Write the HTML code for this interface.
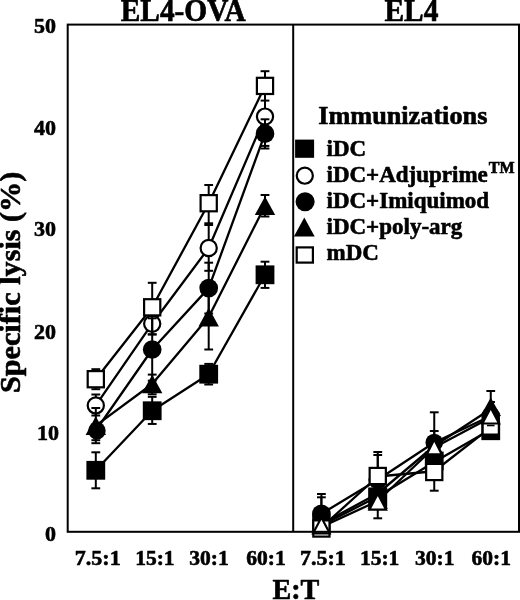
<!DOCTYPE html>
<html><head><meta charset="utf-8"><title>Specific lysis</title>
<style>
html,body{margin:0;padding:0;background:#fff;}
body{width:520px;height:600px;overflow:hidden;}
svg{display:block;filter:grayscale(1);}
text{font-family:"Liberation Serif",serif;font-weight:bold;fill:#000;stroke:#000;stroke-width:0.6px;stroke-linejoin:round;}
</style></head><body>
<svg width="520" height="600" viewBox="0 0 520 600">
<rect x="0" y="0" width="520" height="600" fill="#fff"/>
<g shape-rendering="geometricPrecision">
<polyline points="95.80,470.30 152.20,410.75 208.70,374.20 265.00,274.80" fill="none" stroke="#000" stroke-width="2.3" stroke-linejoin="round"/>
<line x1="95.80" y1="452.30" x2="95.80" y2="488.30" stroke="#000" stroke-width="2.0" stroke-linecap="butt"/>
<line x1="91.40" y1="452.30" x2="100.20" y2="452.30" stroke="#000" stroke-width="2.0" stroke-linecap="butt"/>
<line x1="91.40" y1="488.30" x2="100.20" y2="488.30" stroke="#000" stroke-width="2.0" stroke-linecap="butt"/>
<line x1="152.20" y1="396.85" x2="152.20" y2="423.95" stroke="#000" stroke-width="2.0" stroke-linecap="butt"/>
<line x1="147.80" y1="396.85" x2="156.60" y2="396.85" stroke="#000" stroke-width="2.0" stroke-linecap="butt"/>
<line x1="147.80" y1="423.95" x2="156.60" y2="423.95" stroke="#000" stroke-width="2.0" stroke-linecap="butt"/>
<line x1="208.70" y1="363.90" x2="208.70" y2="384.50" stroke="#000" stroke-width="2.0" stroke-linecap="butt"/>
<line x1="204.30" y1="363.90" x2="213.10" y2="363.90" stroke="#000" stroke-width="2.0" stroke-linecap="butt"/>
<line x1="204.30" y1="384.50" x2="213.10" y2="384.50" stroke="#000" stroke-width="2.0" stroke-linecap="butt"/>
<line x1="265.00" y1="261.70" x2="265.00" y2="287.90" stroke="#000" stroke-width="2.0" stroke-linecap="butt"/>
<line x1="260.60" y1="261.70" x2="269.40" y2="261.70" stroke="#000" stroke-width="2.0" stroke-linecap="butt"/>
<line x1="260.60" y1="287.90" x2="269.40" y2="287.90" stroke="#000" stroke-width="2.0" stroke-linecap="butt"/>
<rect x="86.40" y="460.90" width="18.8" height="18.8" fill="#000"/>
<rect x="142.80" y="401.35" width="18.8" height="18.8" fill="#000"/>
<rect x="199.30" y="364.80" width="18.8" height="18.8" fill="#000"/>
<rect x="255.60" y="265.40" width="18.8" height="18.8" fill="#000"/>
<polyline points="95.80,405.40 152.20,323.70 208.70,248.00 265.00,116.60" fill="none" stroke="#000" stroke-width="2.3" stroke-linejoin="round"/>
<line x1="95.80" y1="394.50" x2="95.80" y2="415.50" stroke="#000" stroke-width="2.0" stroke-linecap="butt"/>
<line x1="91.40" y1="394.50" x2="100.20" y2="394.50" stroke="#000" stroke-width="2.0" stroke-linecap="butt"/>
<line x1="91.40" y1="415.50" x2="100.20" y2="415.50" stroke="#000" stroke-width="2.0" stroke-linecap="butt"/>
<line x1="152.20" y1="312.90" x2="152.20" y2="334.50" stroke="#000" stroke-width="2.0" stroke-linecap="butt"/>
<line x1="147.80" y1="312.90" x2="156.60" y2="312.90" stroke="#000" stroke-width="2.0" stroke-linecap="butt"/>
<line x1="147.80" y1="334.50" x2="156.60" y2="334.50" stroke="#000" stroke-width="2.0" stroke-linecap="butt"/>
<line x1="208.70" y1="225.00" x2="208.70" y2="270.80" stroke="#000" stroke-width="2.0" stroke-linecap="butt"/>
<line x1="204.30" y1="225.00" x2="213.10" y2="225.00" stroke="#000" stroke-width="2.0" stroke-linecap="butt"/>
<line x1="204.30" y1="270.80" x2="213.10" y2="270.80" stroke="#000" stroke-width="2.0" stroke-linecap="butt"/>
<line x1="265.00" y1="87.30" x2="265.00" y2="145.90" stroke="#000" stroke-width="2.0" stroke-linecap="butt"/>
<line x1="260.60" y1="87.30" x2="269.40" y2="87.30" stroke="#000" stroke-width="2.0" stroke-linecap="butt"/>
<line x1="260.60" y1="145.90" x2="269.40" y2="145.90" stroke="#000" stroke-width="2.0" stroke-linecap="butt"/>
<circle cx="95.80" cy="405.40" r="8.1" fill="#fff" stroke="#000" stroke-width="2.2"/>
<circle cx="152.20" cy="323.70" r="8.1" fill="#fff" stroke="#000" stroke-width="2.2"/>
<circle cx="208.70" cy="248.00" r="8.1" fill="#fff" stroke="#000" stroke-width="2.2"/>
<circle cx="265.00" cy="116.60" r="8.1" fill="#fff" stroke="#000" stroke-width="2.2"/>
<polyline points="95.80,430.50 152.20,349.50 208.70,288.10 265.00,133.70" fill="none" stroke="#000" stroke-width="2.3" stroke-linejoin="round"/>
<line x1="95.80" y1="424.00" x2="95.80" y2="440.20" stroke="#000" stroke-width="2.0" stroke-linecap="butt"/>
<line x1="91.40" y1="424.00" x2="100.20" y2="424.00" stroke="#000" stroke-width="2.0" stroke-linecap="butt"/>
<line x1="91.40" y1="440.20" x2="100.20" y2="440.20" stroke="#000" stroke-width="2.0" stroke-linecap="butt"/>
<line x1="152.20" y1="318.30" x2="152.20" y2="380.70" stroke="#000" stroke-width="2.0" stroke-linecap="butt"/>
<line x1="147.80" y1="318.30" x2="156.60" y2="318.30" stroke="#000" stroke-width="2.0" stroke-linecap="butt"/>
<line x1="147.80" y1="380.70" x2="156.60" y2="380.70" stroke="#000" stroke-width="2.0" stroke-linecap="butt"/>
<line x1="208.70" y1="262.70" x2="208.70" y2="313.50" stroke="#000" stroke-width="2.0" stroke-linecap="butt"/>
<line x1="204.30" y1="262.70" x2="213.10" y2="262.70" stroke="#000" stroke-width="2.0" stroke-linecap="butt"/>
<line x1="204.30" y1="313.50" x2="213.10" y2="313.50" stroke="#000" stroke-width="2.0" stroke-linecap="butt"/>
<line x1="265.00" y1="119.30" x2="265.00" y2="148.50" stroke="#000" stroke-width="2.0" stroke-linecap="butt"/>
<line x1="260.60" y1="119.30" x2="269.40" y2="119.30" stroke="#000" stroke-width="2.0" stroke-linecap="butt"/>
<line x1="260.60" y1="148.50" x2="269.40" y2="148.50" stroke="#000" stroke-width="2.0" stroke-linecap="butt"/>
<circle cx="96.90" cy="430.70" r="8.8" fill="#000"/>
<circle cx="152.20" cy="349.50" r="9.35" fill="#000"/>
<circle cx="208.70" cy="288.10" r="9.35" fill="#000"/>
<circle cx="265.00" cy="133.70" r="9.35" fill="#000"/>
<polyline points="95.80,425.60 152.20,384.00 208.70,317.10 265.00,205.75" fill="none" stroke="#000" stroke-width="2.3" stroke-linejoin="round"/>
<line x1="95.80" y1="408.00" x2="95.80" y2="443.20" stroke="#000" stroke-width="2.0" stroke-linecap="butt"/>
<line x1="91.40" y1="408.00" x2="100.20" y2="408.00" stroke="#000" stroke-width="2.0" stroke-linecap="butt"/>
<line x1="91.40" y1="443.20" x2="100.20" y2="443.20" stroke="#000" stroke-width="2.0" stroke-linecap="butt"/>
<line x1="152.20" y1="374.60" x2="152.20" y2="394.30" stroke="#000" stroke-width="2.0" stroke-linecap="butt"/>
<line x1="147.80" y1="374.60" x2="156.60" y2="374.60" stroke="#000" stroke-width="2.0" stroke-linecap="butt"/>
<line x1="147.80" y1="394.30" x2="156.60" y2="394.30" stroke="#000" stroke-width="2.0" stroke-linecap="butt"/>
<line x1="208.70" y1="286.00" x2="208.70" y2="349.50" stroke="#000" stroke-width="2.0" stroke-linecap="butt"/>
<line x1="204.30" y1="286.00" x2="213.10" y2="286.00" stroke="#000" stroke-width="2.0" stroke-linecap="butt"/>
<line x1="204.30" y1="349.50" x2="213.10" y2="349.50" stroke="#000" stroke-width="2.0" stroke-linecap="butt"/>
<line x1="265.00" y1="195.00" x2="265.00" y2="216.50" stroke="#000" stroke-width="2.0" stroke-linecap="butt"/>
<line x1="260.60" y1="195.00" x2="269.40" y2="195.00" stroke="#000" stroke-width="2.0" stroke-linecap="butt"/>
<line x1="260.60" y1="216.50" x2="269.40" y2="216.50" stroke="#000" stroke-width="2.0" stroke-linecap="butt"/>
<polygon points="95.80,416.30 106.00,434.90 85.60,434.90" fill="#000"/>
<polygon points="152.20,374.70 162.40,393.30 142.00,393.30" fill="#000"/>
<polygon points="208.70,307.80 218.90,326.40 198.50,326.40" fill="#000"/>
<polygon points="265.00,196.45 275.20,215.05 254.80,215.05" fill="#000"/>
<polyline points="95.80,379.20 152.20,307.30 208.70,203.20 265.00,85.90" fill="none" stroke="#000" stroke-width="2.3" stroke-linejoin="round"/>
<line x1="95.80" y1="369.20" x2="95.80" y2="389.20" stroke="#000" stroke-width="2.0" stroke-linecap="butt"/>
<line x1="91.40" y1="369.20" x2="100.20" y2="369.20" stroke="#000" stroke-width="2.0" stroke-linecap="butt"/>
<line x1="91.40" y1="389.20" x2="100.20" y2="389.20" stroke="#000" stroke-width="2.0" stroke-linecap="butt"/>
<line x1="152.20" y1="282.80" x2="152.20" y2="334.30" stroke="#000" stroke-width="2.0" stroke-linecap="butt"/>
<line x1="147.80" y1="282.80" x2="156.60" y2="282.80" stroke="#000" stroke-width="2.0" stroke-linecap="butt"/>
<line x1="147.80" y1="334.30" x2="156.60" y2="334.30" stroke="#000" stroke-width="2.0" stroke-linecap="butt"/>
<line x1="208.70" y1="185.00" x2="208.70" y2="223.30" stroke="#000" stroke-width="2.0" stroke-linecap="butt"/>
<line x1="204.30" y1="185.00" x2="213.10" y2="185.00" stroke="#000" stroke-width="2.0" stroke-linecap="butt"/>
<line x1="204.30" y1="223.30" x2="213.10" y2="223.30" stroke="#000" stroke-width="2.0" stroke-linecap="butt"/>
<line x1="265.00" y1="71.20" x2="265.00" y2="100.60" stroke="#000" stroke-width="2.0" stroke-linecap="butt"/>
<line x1="260.60" y1="71.20" x2="269.40" y2="71.20" stroke="#000" stroke-width="2.0" stroke-linecap="butt"/>
<line x1="260.60" y1="100.60" x2="269.40" y2="100.60" stroke="#000" stroke-width="2.0" stroke-linecap="butt"/>
<rect x="87.70" y="371.10" width="16.2" height="16.2" fill="#fff" stroke="#000" stroke-width="2.2"/>
<rect x="144.10" y="299.20" width="16.2" height="16.2" fill="#fff" stroke="#000" stroke-width="2.2"/>
<rect x="200.60" y="195.10" width="16.2" height="16.2" fill="#fff" stroke="#000" stroke-width="2.2"/>
<rect x="256.90" y="77.80" width="16.2" height="16.2" fill="#fff" stroke="#000" stroke-width="2.2"/>
<polyline points="321.40,525.50 377.75,496.50 434.25,462.00 490.75,429.50" fill="none" stroke="#000" stroke-width="2.3" stroke-linejoin="round"/>
<polyline points="321.40,513.80 377.75,479.80 434.25,442.50 490.75,416.00" fill="none" stroke="#000" stroke-width="2.3" stroke-linejoin="round"/>
<polyline points="321.40,524.00 377.75,493.50 434.25,446.00 490.75,409.00" fill="none" stroke="#000" stroke-width="2.3" stroke-linejoin="round"/>
<polyline points="321.40,527.50 377.75,476.50 434.25,471.25 490.75,427.30" fill="none" stroke="#000" stroke-width="2.3" stroke-linejoin="round"/>
<polyline points="321.40,527.00 377.75,501.00 434.25,447.50 490.75,417.50" fill="none" stroke="#000" stroke-width="2.3" stroke-linejoin="round"/>
<line x1="321.40" y1="494.00" x2="321.40" y2="513.80" stroke="#000" stroke-width="2.0" stroke-linecap="butt"/>
<line x1="317.00" y1="494.00" x2="325.80" y2="494.00" stroke="#000" stroke-width="2.0" stroke-linecap="butt"/>
<line x1="321.40" y1="497.30" x2="321.40" y2="513.80" stroke="#000" stroke-width="2.0" stroke-linecap="butt"/>
<line x1="317.00" y1="497.30" x2="325.80" y2="497.30" stroke="#000" stroke-width="2.0" stroke-linecap="butt"/>
<line x1="377.75" y1="452.00" x2="377.75" y2="518.30" stroke="#000" stroke-width="2.0" stroke-linecap="butt"/>
<line x1="373.35" y1="452.00" x2="382.15" y2="452.00" stroke="#000" stroke-width="2.0" stroke-linecap="butt"/>
<line x1="373.35" y1="518.30" x2="382.15" y2="518.30" stroke="#000" stroke-width="2.0" stroke-linecap="butt"/>
<line x1="377.75" y1="455.00" x2="377.75" y2="500.00" stroke="#000" stroke-width="2.0" stroke-linecap="butt"/>
<line x1="373.35" y1="455.00" x2="382.15" y2="455.00" stroke="#000" stroke-width="2.0" stroke-linecap="butt"/>
<line x1="434.25" y1="412.30" x2="434.25" y2="490.70" stroke="#000" stroke-width="2.0" stroke-linecap="butt"/>
<line x1="429.85" y1="412.30" x2="438.65" y2="412.30" stroke="#000" stroke-width="2.0" stroke-linecap="butt"/>
<line x1="429.85" y1="490.70" x2="438.65" y2="490.70" stroke="#000" stroke-width="2.0" stroke-linecap="butt"/>
<line x1="434.25" y1="431.00" x2="434.25" y2="445.00" stroke="#000" stroke-width="2.0" stroke-linecap="butt"/>
<line x1="429.85" y1="431.00" x2="438.65" y2="431.00" stroke="#000" stroke-width="2.0" stroke-linecap="butt"/>
<line x1="490.75" y1="391.00" x2="490.75" y2="402.00" stroke="#000" stroke-width="2.0" stroke-linecap="butt"/>
<line x1="486.35" y1="391.00" x2="495.15" y2="391.00" stroke="#000" stroke-width="2.0" stroke-linecap="butt"/>
<line x1="490.75" y1="402.00" x2="494.95" y2="402.00" stroke="#000" stroke-width="2.0" stroke-linecap="butt"/>
<rect x="312.20" y="514.30" width="18.4" height="18.4" fill="#000"/>
<circle cx="321.40" cy="513.80" r="9.35" fill="#000"/>
<rect x="368.35" y="487.60" width="18.8" height="18.8" fill="#000"/>
<circle cx="377.75" cy="479.80" r="9.35" fill="#000"/>
<polygon points="377.75,490.20 387.95,508.80 367.55,508.80" fill="#000"/>
<rect x="368.45" y="487.7" width="18.6" height="22.2" fill="#000"/>
<circle cx="434.25" cy="442.50" r="8.8" fill="#000"/>
<rect x="424.85" y="451.60" width="18.8" height="18.8" fill="#000"/>
<circle cx="490.75" cy="416.00" r="9.35" fill="#000"/>
<polygon points="490.75,397.40 500.95,416.00 480.55,416.00" fill="#000"/>
<rect x="481.35" y="421.35" width="18.8" height="18.8" fill="#000"/>
<rect x="313.30" y="520.40" width="16.2" height="16.2" fill="#fff" stroke="#000" stroke-width="2.2"/>
<rect x="369.65" y="467.90" width="16.2" height="16.2" fill="#fff" stroke="#000" stroke-width="2.2"/>
<rect x="426.15" y="463.90" width="16.2" height="16.2" fill="#fff" stroke="#000" stroke-width="2.2"/>
<rect x="482.65" y="418.40" width="16.2" height="16.2" fill="#fff" stroke="#000" stroke-width="2.2"/>
<polygon points="321.40,517.55 329.70,533.35 313.10,533.35" fill="#fff" stroke="#000" stroke-width="2.2" stroke-linejoin="miter"/>
<polygon points="377.75,493.80 386.05,509.60 369.45,509.60" fill="#fff" stroke="#000" stroke-width="2.2" stroke-linejoin="miter"/>
<polygon points="434.25,439.20 441.95,454.40 426.55,454.40" fill="#fff" stroke="#000" stroke-width="2.5" stroke-linejoin="miter"/>
<polygon points="490.75,407.70 499.05,423.50 482.45,423.50" fill="#fff" stroke="#000" stroke-width="2.2" stroke-linejoin="miter"/>
<line x1="486.95" y1="425.50" x2="494.55" y2="425.50" stroke="#000" stroke-width="1.6" stroke-linecap="butt"/>
<rect x="67.7" y="24.6" width="451.3" height="507.19999999999993" fill="none" stroke="#000" stroke-width="2"/>
<line x1="293.20" y1="24.60" x2="293.20" y2="531.80" stroke="#000" stroke-width="2" stroke-linecap="butt"/>
<rect x="295.1" y="139.6" width="19.0" height="18.2" fill="#000"/>
<circle cx="304.80" cy="175.70" r="8.05" fill="#fff" stroke="#000" stroke-width="2.2"/>
<circle cx="305.10" cy="201.70" r="9.55" fill="#000"/>
<polygon points="304.30,217.60 314.70,236.60 293.90,236.60" fill="#000"/>
<rect x="296.7" y="247.4" width="16.2" height="15.2" fill="#fff" stroke="#000" stroke-width="2.2"/>
</g>
<g>
<text transform="translate(120.8,20.7) scale(1,1.07)" font-size="29.35">EL4-OVA</text>
<text transform="translate(384.5,20.7) scale(1,1.07)" font-size="29.4">EL4</text>
<text x="55.9" y="33.400000000000006" font-size="22" text-anchor="end" >50</text>
<text x="55.9" y="134.6" font-size="22" text-anchor="end" >40</text>
<text x="55.9" y="235.89999999999998" font-size="22" text-anchor="end" >30</text>
<text x="55.9" y="338.7" font-size="22" text-anchor="end" >20</text>
<text x="55.9" y="541.0" font-size="22" text-anchor="end" >0</text>
<text x="58.9" y="440.1" font-size="22" text-anchor="end" >10</text>
<text x="97.75" y="565.0" font-size="22" text-anchor="middle" >7.5:1</text>
<text x="154.9" y="565.0" font-size="21.5" text-anchor="middle" >15:1</text>
<text x="209.0" y="565.0" font-size="21.5" text-anchor="middle" >30:1</text>
<text x="266.0" y="565.0" font-size="21.5" text-anchor="middle" >60:1</text>
<text x="322.9" y="565.0" font-size="22" text-anchor="middle" >7.5:1</text>
<text x="379.6" y="565.0" font-size="21.5" text-anchor="middle" >15:1</text>
<text x="434.75" y="565.0" font-size="21.5" text-anchor="middle" >30:1</text>
<text x="491.25" y="565.0" font-size="21.5" text-anchor="middle" >60:1</text>
<text transform="translate(272.5,598.9) scale(1,1.06)" font-size="28.1">E:T</text>
<text transform="translate(20.4,393.0) rotate(-90)" font-size="30.2">Specific lysis (%)</text>
<text transform="translate(318.2,124.0) scale(1.042,1)" font-size="25.2">Immunizations</text>
<text x="326.5" y="156.3" font-size="23" text-anchor="start" >iDC</text>
<text x="326.5" y="182.0" font-size="23" text-anchor="start" >iDC+Adjuprime<tspan font-size="16" dy="-8.8" dx="1">TM</tspan></text>
<text x="326.5" y="207.6" font-size="23" text-anchor="start" >iDC+Imiquimod</text>
<text x="326.5" y="233.8" font-size="23" text-anchor="start" >iDC+poly-arg</text>
<text x="326.5" y="260.4" font-size="23" text-anchor="start" >mDC</text>
</g>
</svg>
</body></html>
